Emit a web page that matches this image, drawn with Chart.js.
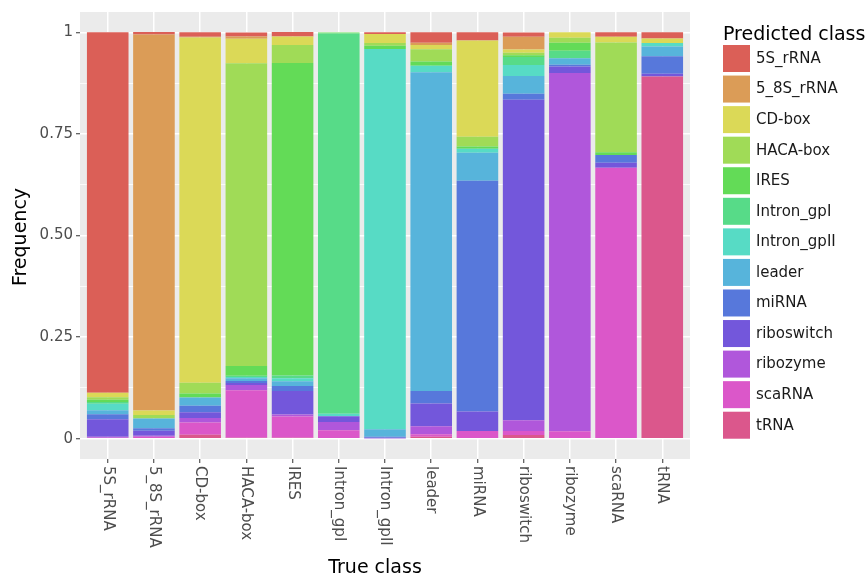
<!DOCTYPE html>
<html>
<head>
<meta charset="utf-8">
<script src="https://cdn.jsdelivr.net/npm/chart.js@4.4.1/dist/chart.umd.min.js"></script>
<style>
  html, body { margin: 0; padding: 0; background: #fff; }
  #wrap { width: 868px; height: 581px; }
</style>
</head>
<body>
<div id="wrap"><canvas id="chart" width="868" height="581"></canvas></div>
<script>
// True class on x, share of each predicted class stacked on y
const trueClasses = ["5S_rRNA", "5_8S_rRNA", "CD-box", "HACA-box", "IRES", "Intron_gpI", "Intron_gpII",
  "leader", "miRNA", "riboswitch", "ribozyme", "scaRNA", "tRNA"];

// legend order (top of stack first)
const predictedClasses = ["5S_rRNA", "5_8S_rRNA", "CD-box", "HACA-box", "IRES", "Intron_gpI", "Intron_gpII",
  "leader", "miRNA", "riboswitch", "ribozyme", "scaRNA", "tRNA"];

const classColors = ["#DB5F57", "#DB9C57", "#DBD957", "#A0DB57", "#63DB57", "#57DB88", "#57DBC5",
  "#57B4DB", "#5778DB", "#7357DB", "#B057DB", "#DB57C9", "#DB578C"];

// one array per predicted class, values in trueClasses order
const p5S_rRNA    = [0.887, 0.006, 0.0105, 0.0097, 0.011, 0, 0.004, 0.026, 0.02, 0.011, 0, 0.011, 0.015];
const p5_8S_rRNA  = [0, 0.925, 0.002, 0.006, 0, 0, 0, 0.0056, 0, 0.031, 0, 0, 0];
const pCDbox      = [0.011, 0.011, 0.8495, 0.06, 0.021, 0, 0.022, 0.0105, 0.237, 0.008, 0.0137, 0.0145, 0.011];
const pHACAbox    = [0.006, 0.009, 0.027, 0.745, 0.044, 0, 0.007, 0.03, 0.024, 0.0065, 0.012, 0.27, 0];
const pIRES       = [0.006, 0, 0.0097, 0.024, 0.769, 0.0025, 0.008, 0.0105, 0.0056, 0.004, 0.02, 0.0065, 0];
const pIntronGpI  = [0.004, 0, 0, 0.003, 0.007, 0.9355, 0, 0, 0, 0.02, 0.0185, 0, 0];
const pIntronGpII = [0.016, 0, 0, 0.003, 0.007, 0.006, 0.936, 0.016, 0.0097, 0.027, 0, 0, 0.009];
const pLeader     = [0.010, 0.024, 0.02, 0.007, 0.012, 0, 0.018, 0.784, 0.069, 0.0435, 0.016, 0, 0.024];
const pMiRNA      = [0.012, 0.006, 0.016, 0.005, 0.012, 0, 0.003, 0.031, 0.568, 0.0145, 0.004, 0.0193, 0.043];
const pRiboswitch = [0.043, 0.012, 0.0145, 0.005, 0.058, 0.0145, 0.001, 0.056, 0.048, 0.789, 0.016, 0.012, 0.0065];
const pRibozyme   = [0.003, 0.0025, 0.011, 0.013, 0.005, 0.02, 0.001, 0.02, 0, 0.0266, 0.8815, 0, 0];
const pScaRNA     = [0.002, 0.005, 0.03, 0.117, 0.052, 0.021, 0, 0.0056, 0.0186, 0.0097, 0.0185, 0.667, 0];
const pTRNA       = [0, 0, 0.0097, 0.002, 0.0025, 0, 0, 0.005, 0, 0.009, 0, 0, 0.8915];

const seriesValues = [p5S_rRNA, p5_8S_rRNA, pCDbox, pHACAbox, pIRES, pIntronGpI, pIntronGpII,
  pLeader, pMiRNA, pRiboswitch, pRibozyme, pScaRNA, pTRNA];

const yMajor = [0, 0.25, 0.5, 0.75, 1];
const yLabels = ["0", "0.25", "0.50", "0.75", "1"];
const yMinor = [0.125, 0.375, 0.625, 0.875];

Chart.defaults.font.family = "'DejaVu Sans', sans-serif";

// stack bottom-up: first dataset sits at the bottom, so tRNA goes first
const datasets = predictedClasses
  .map((name, k) => ({
    label: name,
    data: trueClasses.map((c, i) => ({ x: i + 1, y: seriesValues[k][i] })),
    backgroundColor: classColors[k],
    borderWidth: 0,
    categoryPercentage: 0.9,
    barPercentage: 1,
  }))
  .reverse();

const isMajor = (v) => yMajor.indexOf(v) >= 0;

const ggDecor = {
  id: "ggDecor",
  beforeDraw(chart) {
    const { ctx, chartArea: a } = chart;
    ctx.save();
    ctx.fillStyle = "#EBEBEB";
    ctx.fillRect(a.left, a.top, a.right - a.left, a.bottom - a.top);
    ctx.restore();
  },
  afterDraw(chart) {
    const { ctx, chartArea: a } = chart;
    const xs = chart.scales.x;
    ctx.save();

    // x tick labels, turned to read top-down
    ctx.fillStyle = "#4D4D4D";
    ctx.font = "15px 'DejaVu Sans'";
    ctx.textAlign = "left";
    ctx.textBaseline = "middle";
    trueClasses.forEach((c, i) => {
      ctx.save();
      ctx.translate(xs.getPixelForValue(i + 1), a.bottom + 7);
      ctx.rotate(Math.PI / 2);
      ctx.fillText(c, 0, 0);
      ctx.restore();
    });

    // axis titles
    ctx.fillStyle = "#000";
    ctx.font = "19px 'DejaVu Sans'";
    ctx.textAlign = "center";
    ctx.textBaseline = "alphabetic";
    ctx.fillText("True class", 375, 573);
    ctx.save();
    ctx.translate(26, 237);
    ctx.rotate(-Math.PI / 2);
    ctx.fillText("Frequency", 0, 0);
    ctx.restore();

    // legend
    ctx.textAlign = "left";
    ctx.fillText("Predicted class", 723, 40);
    ctx.font = "15px 'DejaVu Sans'";
    ctx.textBaseline = "middle";
    predictedClasses.forEach((name, k) => {
      const top = 45 + k * 30.56;
      ctx.fillStyle = classColors[k];
      ctx.fillRect(723, top, 27, 27);
      ctx.fillStyle = "#1a1a1a";
      ctx.fillText(name, 756, top + 14);
    });
    ctx.restore();
  },
};

new Chart(document.getElementById("chart"), {
  type: "bar",
  data: { datasets },
  options: {
    responsive: false,
    animation: false,
    layout: { padding: { left: 0, top: 4, right: 178, bottom: 0 } },
    plugins: { legend: { display: false }, tooltip: { enabled: false } },
    scales: {
      x: {
        type: "linear",
        stacked: true,
        offset: false,
        min: 0.4,
        max: 13.6,
        afterBuildTicks: (s) => { s.ticks = trueClasses.map((c, i) => ({ value: i + 1 })); },
        afterFit: (s) => { s.height = 122; },
        ticks: { display: false },
        grid: { offset: false, color: "#fff", lineWidth: 1.5, tickLength: 4, tickColor: "#333", tickWidth: 1 },
        border: { display: false },
      },
      y: {
        stacked: true,
        min: -0.05,
        max: 1.05,
        afterBuildTicks: (s) => { s.ticks = yMajor.concat(yMinor).map((v) => ({ value: v })); },
        afterFit: (s) => { s.width = 80; },
        ticks: {
          autoSkip: false,
          color: "#4D4D4D",
          font: { size: 15 },
          padding: 3,
          callback: (v) => (isMajor(v) ? yLabels[yMajor.indexOf(v)] : ""),
        },
        grid: {
          color: "#fff",
          lineWidth: (c) => (c.tick && isMajor(c.tick.value) ? 1.5 : 0.8),
          tickLength: 4,
          tickColor: (c) => (c.tick && isMajor(c.tick.value) ? "#333" : "rgba(0,0,0,0)"),
          tickWidth: 1,
        },
        border: { display: false },
      },
    },
  },
  plugins: [ggDecor],
});
</script>
</body>
</html>
